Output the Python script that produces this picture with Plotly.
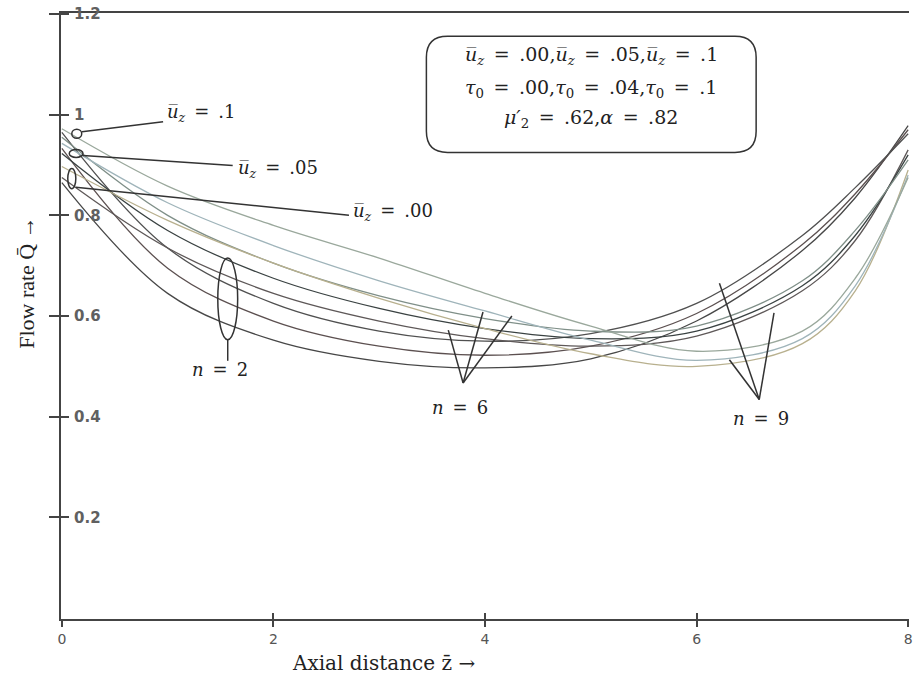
import plotly.graph_objects as go

# Axial positions at which each flow-rate profile is sampled
z = [0, 1, 2, 3, 4, 5, 6, 7, 7.5, 8]

# Flow rate profiles, n = 2 family
q_n2_a = [0.865, 0.645, 0.552, 0.510, 0.497, 0.515, 0.590, 0.730, 0.835, 0.978]
q_n2_b = [0.933, 0.695, 0.590, 0.540, 0.522, 0.540, 0.605, 0.742, 0.843, 0.970]
q_n2_c = [0.965, 0.735, 0.625, 0.570, 0.550, 0.565, 0.625, 0.760, 0.855, 0.962]
# n = 6 family
q_n6_a = [0.875, 0.735, 0.645, 0.590, 0.555, 0.540, 0.560, 0.650, 0.750, 0.930]
q_n6_b = [0.923, 0.770, 0.675, 0.615, 0.575, 0.555, 0.570, 0.660, 0.760, 0.920]
q_n6_c = [0.955, 0.800, 0.705, 0.640, 0.595, 0.570, 0.580, 0.670, 0.770, 0.910]
# n = 9 family
q_n9_a = [0.897, 0.790, 0.705, 0.635, 0.575, 0.525, 0.500, 0.545, 0.650, 0.890]
q_n9_b = [0.943, 0.825, 0.740, 0.670, 0.610, 0.552, 0.512, 0.555, 0.660, 0.880]
q_n9_c = [0.972, 0.858, 0.780, 0.715, 0.645, 0.580, 0.530, 0.570, 0.675, 0.875]

profiles = [q_n2_a, q_n2_b, q_n2_c, q_n6_a, q_n6_b, q_n6_c, q_n9_a, q_n9_b, q_n9_c]
line_colors = ["#474747", "#5c5050", "#505050",
               "#5e5858", "#3a4242", "#7f8f88",
               "#b8b08e", "#9fb4ba", "#9aa89c"]

x_ticks = [0, 2, 4, 6, 8]
x_tick_text = ["0", "2", "4", "6", "8"]
y_ticks = [0.2, 0.4, 0.6, 0.8, 1.0, 1.2]
y_tick_text = ["0.2", "0.4", "0.6", "0.8", "1", "1.2"]

X_RANGE = [-0.008, 8.008]
Y_RANGE = [-0.002, 1.202]

SERIF = "Liberation Serif, Times New Roman, serif"
WIDE_SERIF = "DejaVu Serif, serif"
INK = "#333333"

fig = go.Figure()
for q, c in zip(profiles, line_colors):
    fig.add_trace(go.Scatter(x=z, y=q, mode="lines",
                             line=dict(color=c, width=1.3, shape="spline", smoothing=1.0),
                             showlegend=False, hoverinfo="skip"))

# empty trace so the overlay axes (inner halves of the crossing ticks) get drawn
fig.add_trace(go.Scatter(x=[None], y=[None], xaxis="x2", yaxis="y2",
                         showlegend=False, hoverinfo="skip"))

y_tick_font = dict(family="DejaVu Sans, sans-serif", size=15, color="#606060", weight="bold")
x_tick_font = dict(family="DejaVu Sans, sans-serif", size=14, color="#555555")

fig.update_layout(
    width=914, height=675, autosize=False,
    margin=dict(l=61, r=1, t=13, b=56),
    paper_bgcolor="white", plot_bgcolor="white",
    xaxis=dict(range=X_RANGE, tickmode="array", tickvals=x_ticks, ticktext=x_tick_text,
               ticks="outside", ticklen=6, tickwidth=1.5, tickcolor="#444",
               ticklabeloverflow="allow",
               showline=True, linecolor="#444", linewidth=2, mirror=True,
               showgrid=False, zeroline=False, tickfont=x_tick_font),
    yaxis=dict(range=Y_RANGE, tickmode="array", tickvals=y_ticks, ticktext=y_tick_text,
               ticks="outside", ticklen=10, tickwidth=1.5, tickcolor="#444",
               ticklabelposition="inside", ticklabelstandoff=13,
               ticklabeloverflow="allow",
               showline=True, linecolor="#444", linewidth=2,
               showgrid=False, zeroline=False, tickfont=y_tick_font),
    xaxis2=dict(overlaying="x", anchor="y2", side="bottom", range=X_RANGE,
                tickmode="array", tickvals=x_ticks[1:], ticks="inside", ticklen=6,
                tickwidth=1.5, tickcolor="#444", showticklabels=False, showline=False,
                showgrid=False, zeroline=False),
    yaxis2=dict(overlaying="y", anchor="x2", side="left", range=Y_RANGE,
                tickmode="array", tickvals=y_ticks, ticks="inside", ticklen=8,
                tickwidth=1.5, tickcolor="#444", showticklabels=False, showline=False,
                showgrid=False, zeroline=False),
)

shapes = []
line_style = dict(color=INK, width=1.5)

# rounded box holding the parameter values
bx0, bx1, by0, by1 = 3.446, 6.563, 0.925, 1.156
rx, ry = 0.20, 0.042
box_path = (f"M {bx0+rx},{by1} L {bx1-rx},{by1} Q {bx1},{by1} {bx1},{by1-ry} "
            f"L {bx1},{by0+ry} Q {bx1},{by0} {bx1-rx},{by0} "
            f"L {bx0+rx},{by0} Q {bx0},{by0} {bx0},{by0+ry} "
            f"L {bx0},{by1-ry} Q {bx0},{by1} {bx0+rx},{by1} Z")
shapes.append(dict(type="path", xref="x", yref="y", path=box_path, line=line_style))

# markers and leaders for the slip-velocity labels
shapes.append(dict(type="circle", xref="x", yref="y", x0=0.094, x1=0.188,
                   y0=0.953, y1=0.971, line=line_style))
shapes.append(dict(type="line", xref="x", yref="y", x0=0.19, y0=0.966,
                   x1=0.957, y1=0.986, line=line_style))
shapes.append(dict(type="circle", xref="x", yref="y", x0=0.07, x1=0.20,
                   y0=0.915, y1=0.931, line=line_style))
shapes.append(dict(type="line", xref="x", yref="y", x0=0.20, y0=0.919,
                   x1=1.615, y1=0.899, line=line_style))
shapes.append(dict(type="circle", xref="x", yref="y", x0=0.056, x1=0.132,
                   y0=0.853, y1=0.893, line=line_style))
shapes.append(dict(type="line", xref="x", yref="y", x0=0.132, y0=0.856,
                   x1=2.714, y1=0.800, line=line_style))

# n = 2 ellipse with stem
shapes.append(dict(type="circle", xref="x", yref="y", x0=1.474, x1=1.662,
                   y0=0.553, y1=0.715, line=line_style))
shapes.append(dict(type="line", xref="x", yref="y", x0=1.568, y0=0.553,
                   x1=1.568, y1=0.511, line=line_style))

# n = 6 pointers
for tx, ty in [(3.653, 0.572), (3.981, 0.608), (4.254, 0.600)]:
    shapes.append(dict(type="line", xref="x", yref="y", x0=3.793, y0=0.467,
                       x1=tx, y1=ty, line=line_style))
# n = 9 pointers
for tx, ty in [(6.216, 0.665), (6.310, 0.513), (6.732, 0.606)]:
    shapes.append(dict(type="line", xref="x", yref="y", x0=6.592, y0=0.434,
                       x1=tx, y1=ty, line=line_style))

fig.update_layout(shapes=shapes)

sp = "\u2002"
eq = f"{sp}={sp}"
uz = "<i>u\u0305<sub>z</sub></i>"
tau = "<i>\u03c4</i><sub>0</sub>"
txt_font = dict(family=WIDE_SERIF, size=18, color="#222222")
box_font = dict(family=WIDE_SERIF, size=19, color="#222222")

annotations = [
    dict(x=5.005, y=1.117, text=f"{uz}{eq}.00,{uz}{eq}.05,{uz}{eq}.1", font=box_font),
    dict(x=5.005, y=1.053, text=f"{tau}{eq}.00,{tau}{eq}.04,{tau}{eq}.1", font=box_font),
    dict(x=5.005, y=0.992, text=f"<i>\u03bc\u2032</i><sub>2</sub>{eq}.62,<i>\u03b1</i>{eq}.82",
         font=box_font),
    dict(x=0.977, y=1.004, text=f"{uz}{eq}.1", xanchor="left"),
    dict(x=1.643, y=0.893, text=f"{uz}{eq}.05", xanchor="left"),
    dict(x=2.732, y=0.806, text=f"{uz}{eq}.00", xanchor="left"),
    dict(x=1.493, y=0.493, text=f"<i>n</i>{eq}2"),
    dict(x=3.765, y=0.418, text=f"<i>n</i>{eq}6"),
    dict(x=6.61, y=0.396, text=f"<i>n</i>{eq}9"),
]
for a in annotations:
    a.setdefault("xanchor", "center")
    a.setdefault("font", txt_font)
    a.update(xref="x", yref="y", yanchor="middle", showarrow=False)

# axis titles
annotations.append(dict(xref="paper", yref="paper", x=0.38, y=-0.0726,
                        text="Axial distance z\u0304 \u2192", showarrow=False,
                        font=dict(family=WIDE_SERIF, size=20, color="#222222"),
                        xanchor="center", yanchor="middle"))
annotations.append(dict(xref="paper", yref="paper", x=-0.0399, y=0.555,
                        text="Flow rate Q\u0304 \u2192", showarrow=False, textangle=-90,
                        font=dict(family=SERIF, size=22, color="#222222"),
                        xanchor="center", yanchor="middle"))

fig.update_layout(annotations=annotations)

fig.write_html("out.html")
